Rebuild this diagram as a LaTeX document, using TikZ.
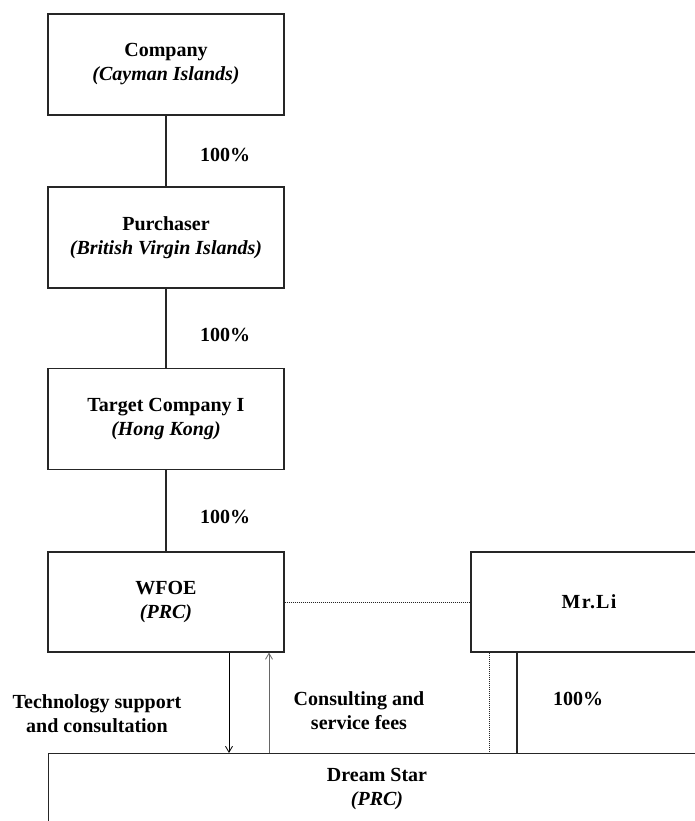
\documentclass[tikz,border=0pt]{standalone}
\usepackage{fontspec}
\setmainfont{Liberation Serif}
\newfontfamily\spacedfont[LetterSpace=6]{Liberation Serif}
\usetikzlibrary{arrows.meta}
\tikzset{
  entity/.style={draw=black!85, line width=1.1pt, rectangle, align=center,
    inner sep=0pt, font=\fontsize{20}{24}\selectfont\bfseries},
  stdbox/.style={entity, minimum width=236pt, minimum height=101pt},
  link/.style={draw=black!85, line width=1.1pt},
  dotlink/.style={draw=black!85, line width=0.9pt, dash pattern=on 1pt off 1pt},
  flow/.style={line width=0.9pt, -{Straight Barb[length=6pt,width=7pt,line width=0.8pt]}},
  lbl/.style={font=\fontsize{20}{24}\selectfont\bfseries, align=center, inner sep=0pt}
}
\begin{document}
\begin{tikzpicture}[x=1pt,y=-1pt]
\useasboundingbox (0,0) rectangle (695,821);
\clip (0,0) rectangle (695,821);
\fill[white] (0,0) rectangle (695,821);

\node[stdbox] (company) at (166,64.5) {Company\\\textit{(Cayman Islands)}};
\node[stdbox] (purchaser) at (166,237.5) {Purchaser\\\textit{(British Virgin Islands)}};
\node[stdbox] (target) at (166,419) {Target Company I\\\textit{(Hong Kong)}};
\node[stdbox, minimum height=100pt] (wfoe) at (166,602) {WFOE\\\textit{(PRC)}};
\node[entity, minimum width=236pt, minimum height=100pt] (mrli) at (589,602) {};
\node[lbl, font=\fontsize{20}{24}\selectfont\spacedfont\bfseries] (mrlitext) at (589,602) {Mr.Li};
\node[entity, minimum width=658pt, minimum height=77pt, anchor=north west] (dream) at (48,753) {};
\node[lbl] (dreamtext) at (377,789) {Dream Star\\\textit{(PRC)}};

\draw[link] (company) -- (purchaser);
\draw[link] (purchaser) -- (target);
\draw[link] (target) -- (wfoe);
\draw[dotlink] (wfoe.east) -- (mrli.west);

\node[lbl] (p1) at (225,155) {100\%};
\node[lbl] (p2) at (225,335) {100\%};
\node[lbl] (p3) at (225,517) {100\%};
\node[lbl] (p4) at (578,699) {100\%};

\coordinate (xa) at (229,0);
\coordinate (xb) at (269,0);
\coordinate (xc) at (489,0);
\coordinate (xd) at (517,0);

\draw[flow, black] (wfoe.south -| xa) -- (dream.north -| xa);
\draw[flow, black!60] (dream.north -| xb) -- (wfoe.south -| xb);
\draw[dotlink] (mrli.south -| xc) -- (dream.north -| xc);
\draw[link] (mrli.south -| xd) -- (dream.north -| xd);

\node[lbl] (tech) at (97,714) {Technology support\\and consultation};
\node[lbl] (fees) at (359,711) {Consulting and\\service fees};
\end{tikzpicture}
\end{document}
